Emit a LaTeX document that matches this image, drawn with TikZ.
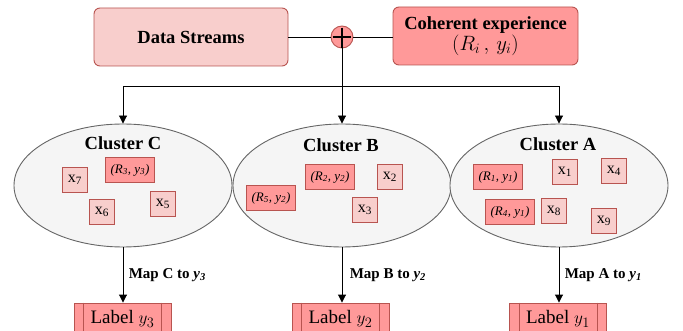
\documentclass[tikz,border=0pt]{standalone}
\usepackage{fontspec}
\setmainfont{Liberation Serif}
\usetikzlibrary{shapes.geometric,arrows.meta}
\definecolor{pinkL}{HTML}{F8CECC}
\definecolor{pinkD}{HTML}{FF9999}
\definecolor{redS}{HTML}{B85450}
\definecolor{grayF}{HTML}{F5F5F5}
\definecolor{grayS}{HTML}{666666}
\tikzset{
  topbox/.style={draw=redS,rounded corners=6pt,line width=0.9pt,inner sep=0pt,minimum height=58pt,align=center,font=\fontsize{18.5}{21}\selectfont\bfseries},
  clus/.style={ellipse,draw=grayS,fill=grayF,line width=0.9pt,minimum width=218pt,minimum height=123pt,inner sep=0pt},
  ctitle/.style={font=\fontsize{18.5}{20}\selectfont\bfseries},
  xbox/.style={draw=redS,fill=pinkL,line width=0.9pt,minimum width=25pt,minimum height=25pt,inner sep=0pt,font=\fontsize{16}{18}\selectfont},
  rbox/.style={draw=redS,fill=pinkD,line width=0.9pt,minimum width=49pt,minimum height=25pt,inner sep=0pt,font=\fontsize{13}{15}\selectfont\itshape},
  lbox/.style={draw=redS,fill=pinkD,line width=0.9pt,minimum width=97pt,minimum height=32pt,inner sep=0pt,font=\fontsize{19}{21}\selectfont},
  maplab/.style={anchor=west,font=\fontsize{15}{17}\selectfont\bfseries},
  conn/.style={line width=0.9pt,black},
  arr/.style={conn,-{Triangle[length=8pt,width=8pt]}}
}
\newcommand{\sub}[1]{\textsubscript{#1}}
\begin{document}
\begin{tikzpicture}[x=1pt,y=-1pt]
\useasboundingbox (0,0) rectangle (683,331);
\clip (0,0) rectangle (683,331);
% top
\node[topbox,fill=pinkL,minimum width=194pt] (ds) at (191,37) {Data Streams};
\node[topbox,fill=pinkD,minimum width=185pt] (ce) at (485.5,36) {Coherent experience\\[0pt]{\mdseries\fontsize{20}{22}\selectfont $(R_i\,,\,y_i)$}};
\node[circle,draw=redS,fill=pinkD,line width=0.9pt,minimum size=22pt,inner sep=0pt] (pl) at (342,37) {};
\draw[conn] (ds.east) -- (pl.west);
\draw[conn] (pl.east) -- (pl.east -| ce.west);
\draw[line width=1.3pt] ([yshift=-2pt]pl.north) -- (pl.south);
\draw[line width=1.3pt] ([xshift=2pt]pl.west) -- ([xshift=-2pt]pl.east);
% clusters
\node[clus] (cC) at (123,185.5) {};
\node[clus] (cB) at (342,185.5) {};
\node[clus] (cA) at (559,185.5) {};
\coordinate (j) at (342,86);
\draw[conn] (pl.south) -- (j);
\draw[arr] (j) -| (cC.north);
\draw[arr] (j) -| (cA.north);
\draw[arr] (j) -- (cB.north);
\node[ctitle] (tC) at (123,143) {Cluster C};
\node[ctitle] (tB) at (341,145) {Cluster B};
\node[ctitle] (tA) at (558,144) {Cluster A};
% cluster C items
\node[xbox] (x7) at (75,180) {x\sub{7}};
\node[rbox] (r3) at (130,170) {(R\sub{3}, y\sub{3})};
\node[xbox] (x6) at (102,212) {x\sub{6}};
\node[xbox] (x5) at (163,204) {x\sub{5}};
% cluster B items
\node[rbox] (r2) at (330,177) {(R\sub{2}, y\sub{2})};
\node[xbox] (x2) at (390,177) {x\sub{2}};
\node[rbox] (r5) at (271,198) {(R\sub{5}, y\sub{2})};
\node[xbox] (x3) at (365,210) {x\sub{3}};
% cluster A items
\node[rbox] (r1) at (498,177) {(R\sub{1}, y\sub{1})};
\node[xbox] (x1) at (565,172) {x\sub{1}};
\node[xbox] (x4) at (614,171) {x\sub{4}};
\node[rbox] (r4) at (510,212) {(R\sub{4}, y\sub{1})};
\node[xbox] (x8) at (554,211) {x\sub{8}};
\node[xbox] (x9) at (604,221) {x\sub{9}};
% labels
\node[lbox] (lC) at (122.5,319) {Label $y_3$};
\node[lbox] (lB) at (340.5,319) {Label $y_2$};
\node[lbox] (lA) at (558,319) {Label $y_1$};
\foreach \n in {lC,lB,lA}{
  \draw[draw=redS,line width=0.9pt] ([xshift=10pt]\n.north west) -- ([xshift=10pt]\n.south west);
  \draw[draw=redS,line width=0.9pt] ([xshift=-10pt]\n.north east) -- ([xshift=-10pt]\n.south east);
}
\draw[arr] (cC.south) -- (cC.south |- lC.north) node[maplab,midway,xshift=2pt] {Map C to \textit{y}\sub{\textit{3}}};
\draw[arr] (cB.south) -- (cB.south |- lB.north) node[maplab,midway,xshift=4pt] {Map B to \textit{y}\sub{\textit{2}}};
\draw[arr] (cA.south) -- (cA.south |- lA.north) node[maplab,midway,xshift=2pt] {Map A to \textit{y}\sub{\textit{1}}};
\end{tikzpicture}
\end{document}
